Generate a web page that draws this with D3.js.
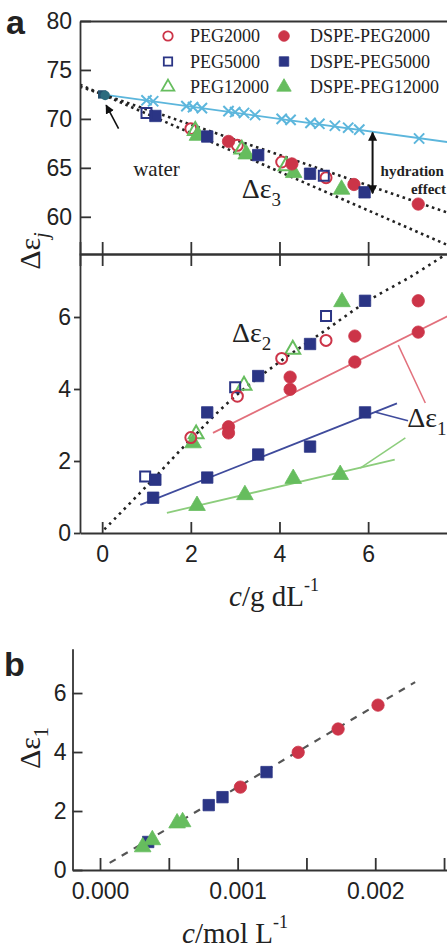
<!DOCTYPE html>
<html><head><meta charset="utf-8">
<script src="https://cdn.jsdelivr.net/npm/d3@7"></script>
<style>
body{margin:0;background:#fff}
svg{display:block}
.axis path,.axis line{stroke:#333;stroke-width:1.8}
.axis text{font-family:"Liberation Sans",Arial,sans-serif;font-size:23px;fill:#222}
.serif{font-family:"Liberation Serif","Times New Roman",serif;fill:#222}
</style>
</head><body>
<svg id="fig" width="447" height="948"></svg>
<script>
// ---- tick values ----
const xTicksA = [0, 2, 4, 6];
const yTicksTop = [60, 65, 70, 75, 80];
const yTicksBot = [0, 2, 4, 6];
const xTicksB = [0, 0.0005, 0.001, 0.0015, 0.002, 0.0025];
const xLabelsB = [0, 0.001, 0.002];
const yTicksB = [0, 2, 4, 6];

// ---- panel a, upper: Δε3 vs c (g/dL) ----
const waterPoint = [[0, 72.5]];
const e3_PEG2000 = [[2.0, 69.0], [3.05, 67.3], [4.05, 65.6], [5.05, 64.0]];
const e3_PEG5000 = [[1.0, 70.6], [5.0, 64.2]];
const e3_PEG12000 = [[2.1, 68.8], [3.15, 66.9], [4.15, 65.2]];
const e3_DSPE2000 = [[2.85, 67.7], [4.28, 65.4], [5.68, 63.3], [7.13, 61.3]];
const e3_DSPE5000 = [[1.2, 70.3], [2.37, 68.2], [3.52, 66.3], [4.69, 64.4], [5.92, 62.5]];
const e3_DSPE12000 = [[2.15, 68.3], [3.25, 66.4], [4.32, 64.5], [5.4, 62.8]];
// static permittivity of bulk-like water (crosses) and its line
const waterLineCross = [[1.0, 71.9], [1.15, 71.8], [1.9, 71.3], [2.05, 71.2], [2.25, 71.1],
  [2.85, 70.8], [3.0, 70.7], [3.2, 70.6], [3.45, 70.4], [4.05, 70.0], [4.25, 69.9],
  [4.7, 69.6], [4.9, 69.5], [5.25, 69.3], [5.55, 69.1], [5.8, 68.9], [7.15, 68.0]];
const crossFit = [[0, 72.5], [8, 67.5]];
const e3UpperFit = [[-0.5, 73.3], [8, 60.1]];
const e3LowerFit = [[-0.5, 73.5], [8, 56.7]];

// ---- panel a, lower: Δε2 and Δε1 vs c (g/dL) ----
const e2_PEG2000 = [[2.0, 2.65], [3.05, 3.8], [4.05, 4.85], [5.05, 5.35]];
const e2_PEG5000 = [[0.97, 1.57], [3.0, 4.05], [5.05, 6.03]];
const e2_PEG12000 = [[2.12, 2.75], [3.2, 4.1], [4.3, 5.1]];
const e2_DSPE2000 = [[2.85, 2.95], [4.24, 4.33], [5.7, 5.47], [7.13, 6.45]];
const e2_DSPE5000 = [[1.2, 1.48], [2.37, 3.35], [3.52, 4.36], [4.69, 5.25], [5.93, 6.45]];
const e2_DSPE12000 = [[2.05, 2.5], [5.41, 6.42]];
const e1_DSPE2000 = [[2.85, 2.78], [4.24, 3.99], [5.7, 4.75], [7.13, 5.58]];
const e1_DSPE5000 = [[1.15, 0.98], [2.37, 1.54], [3.52, 2.18], [4.69, 2.4], [5.93, 3.35]];
const e1_DSPE12000 = [[2.14, 0.76], [3.22, 1.06], [4.31, 1.51], [5.37, 1.62]];
const e2Curve = [[0.05, 0.1], [1, 1.3], [2, 2.6], [3, 3.8], [4, 4.75], [5, 5.6], [6, 6.45], [7, 7.15], [7.7, 7.7]];
const e1Fit_DSPE2000 = [[2.5, 2.78], [7.8, 6.03]];
const e1Fit_DSPE5000 = [[0.86, 0.78], [6.65, 3.6]];
const e1Fit_DSPE12000 = [[1.46, 0.56], [6.6, 2.04]];

// ---- panel b: Δε1 vs molar concentration ----
const b_DSPE12000 = [[0.00031, 0.78], [0.00038, 1.02], [0.00056, 1.59], [0.0006, 1.63]];
const b_DSPE5000 = [[0.00035, 0.95], [0.00079, 2.2], [0.00089, 2.47], [0.00121, 3.32]];
const b_DSPE2000 = [[0.00102, 2.81], [0.00144, 3.99], [0.00173, 4.78], [0.00202, 5.59]];
const bFit = [[0.00007, 0.24], [0.00229, 6.37]];

// ---- legend entries ----
const legendNames = ["PEG2000", "PEG5000", "PEG12000", "DSPE-PEG2000", "DSPE-PEG5000", "DSPE-PEG12000"];

// ---- styles ----
const RED = "#cc3448", BLUE = "#2b3585", GREEN = "#66bd5e", CYAN = "#5cb6dc";
const style = {
  PEG2000: {shape: d3.symbolCircle, size: 95, color: RED, filled: false},
  PEG5000: {shape: d3.symbolSquare, size: 100, color: BLUE, filled: false},
  PEG12000: {shape: d3.symbolTriangle, size: 95, color: GREEN, filled: false},
  "DSPE-PEG2000": {shape: d3.symbolCircle, size: 120, color: RED, filled: true},
  "DSPE-PEG5000": {shape: d3.symbolSquare, size: 130, color: BLUE, filled: true},
  "DSPE-PEG12000": {shape: d3.symbolTriangle, size: 120, color: GREEN, filled: true}
};

const svg = d3.select("#fig");
const defs = svg.append("defs");
defs.append("marker").attr("id", "ah").attr("viewBox", "0 0 10 10")
  .attr("refX", 9).attr("refY", 5).attr("markerWidth", 9).attr("markerHeight", 9)
  .attr("markerUnits", "userSpaceOnUse").attr("orient", "auto-start-reverse")
  .append("path").attr("d", "M0,0L10,5L0,10z").attr("fill", "#111");

// ---- scales ----
const xA = d3.scaleLinear().domain([-0.5, 8]).range([80, 456.8]);
const yT = d3.scaleLinear().domain([56.2, 80]).range([254, 21]);
const yL = d3.scaleLinear().domain([0, 7.75]).range([533, 254]);
const xB = d3.scaleLinear().domain([-0.0002, 0.00252]).range([72.5, 446.8]);
const yB = d3.scaleLinear().domain([0, 7.5]).range([870, 648.8]);

defs.append("clipPath").attr("id", "clipTop").append("rect").attr("x", 80).attr("y", 21).attr("width", 380).attr("height", 233);
defs.append("clipPath").attr("id", "clipBot").append("rect").attr("x", 80).attr("y", 254).attr("width", 380).attr("height", 279);

function markers(g, data, name, xs, ys) {
  const s = style[name];
  g.selectAll(null).data(data).enter().append("path")
    .attr("d", d3.symbol().type(s.shape).size(s.size))
    .attr("transform", d => `translate(${xs(d[0])},${ys(d[1])})`)
    .attr("fill", s.filled ? s.color : "none")
    .attr("stroke", s.color)
    .attr("stroke-width", s.filled ? 0.8 : 2);
}
function lineOf(g, data, xs, ys, color, width, dash, curve) {
  const gen = d3.line().x(d => xs(d[0])).y(d => ys(d[1]));
  if (curve) gen.curve(curve);
  const p = g.append("path").datum(data).attr("d", gen).attr("fill", "none")
    .attr("stroke", color).attr("stroke-width", width);
  if (dash) p.attr("stroke-dasharray", dash).attr("stroke-linecap", "butt");
  return p;
}
function eps(g, x, y, sub, size, anchor, rot) {
  const t = g.append("text").attr("class", "serif").attr("font-size", size)
    .attr("text-anchor", anchor || "start")
    .attr("transform", `translate(${x},${y})` + (rot ? ` rotate(${rot})` : ""));
  t.append("tspan").text("Δε");
  t.append("tspan").attr("font-size", size * 0.68).attr("dy", size * 0.28)
    .attr("font-style", sub === "j" ? "italic" : "normal").text(sub);
  return t;
}

// ================= panel a, upper =================
const gTop = svg.append("g").attr("clip-path", "url(#clipTop)");
lineOf(gTop, crossFit, xA, yT, CYAN, 1.8);
lineOf(gTop, e3UpperFit, xA, yT, "#222", 2.6, "2.6 3.6");
lineOf(gTop, e3LowerFit, xA, yT, "#222", 2.6, "2.6 3.6");
gTop.selectAll(null).data(waterLineCross).enter().append("path")
  .attr("d", d3.symbol().type(d3.symbolTimes).size(70))
  .attr("transform", d => `translate(${xA(d[0])},${yT(d[1])})`)
  .attr("fill", "none").attr("stroke", CYAN).attr("stroke-width", 2);
markers(gTop, e3_PEG2000, "PEG2000", xA, yT);
markers(gTop, e3_PEG12000, "PEG12000", xA, yT);
markers(gTop, e3_DSPE12000, "DSPE-PEG12000", xA, yT);
markers(gTop, e3_DSPE2000, "DSPE-PEG2000", xA, yT);
markers(gTop, e3_DSPE5000, "DSPE-PEG5000", xA, yT);
markers(gTop, e3_PEG5000, "PEG5000", xA, yT);
// water reference point
gTop.selectAll(null).data(waterPoint).enter().append("g")
  .attr("transform", d => `translate(${xA(d[0])},${yT(d[1])})`)
  .call(g => {
    g.append("path").attr("d", d3.symbol().type(d3.symbolSquare).size(70)).attr("fill", "#23506e");
    g.append("path").attr("transform", "translate(3,1)").attr("d", d3.symbol().type(d3.symbolCircle).size(70)).attr("fill", "#2c6b7e");
  });

// hydration-effect arrow
svg.append("line").attr("x1", xA(6.1)).attr("x2", xA(6.1)).attr("y1", yT(68.6)).attr("y2", yT(62.4))
  .attr("stroke", "#111").attr("stroke-width", 2)
  .attr("marker-start", "url(#ah)").attr("marker-end", "url(#ah)");
svg.append("text").attr("class", "serif").attr("font-size", 15).attr("font-weight", "bold")
  .attr("x", xA(6.28)).attr("y", yT(64.2)).text("hydration");
svg.append("text").attr("class", "serif").attr("font-size", 15).attr("font-weight", "bold")
  .attr("text-anchor", "end").attr("x", 446).attr("y", yT(62.3)).text("effect");
// water label and arrow
svg.append("text").attr("class", "serif").attr("font-size", 21)
  .attr("x", xA(0.7)).attr("y", yT(64.2)).text("water");
svg.append("line").attr("x1", xA(0.37)).attr("y1", yT(69.0)).attr("x2", xA(0.09)).attr("y2", yT(71.4))
  .attr("stroke", "#111").attr("stroke-width", 1.6).attr("marker-end", "url(#ah)");
eps(svg, xA(3.15), yT(61.9), "3", 28);

// legend
legendNames.forEach((n, i) => {
  const col = Math.floor(i / 3), row = i % 3;
  const lx = col ? 284 : 168, ly = 36 + row * 25.5;
  const s = style[n];
  svg.append("path").attr("d", d3.symbol().type(s.shape).size(s.filled ? 90 : 70))
    .attr("transform", `translate(${lx},${ly})`)
    .attr("fill", s.filled ? s.color : "none").attr("stroke", s.color).attr("stroke-width", s.filled ? 0.8 : 1.8);
  svg.append("text").attr("class", "serif").attr("font-size", 18)
    .attr("x", lx + (col ? 26 : 22)).attr("y", ly + 6).text(n);
});

// ================= panel a, lower =================
const gBot = svg.append("g").attr("clip-path", "url(#clipBot)");
lineOf(gBot, e2Curve, xA, yL, "#222", 2.6, "2.6 4.4", d3.curveCatmullRom);
lineOf(gBot, e1Fit_DSPE2000, xA, yL, "#e2707c", 1.8);
lineOf(gBot, e1Fit_DSPE5000, xA, yL, "#3f4b9c", 1.8);
lineOf(gBot, e1Fit_DSPE12000, xA, yL, "#8ccd7c", 1.8);
markers(gBot, e2_PEG12000, "PEG12000", xA, yL);
markers(gBot, e2_DSPE12000, "DSPE-PEG12000", xA, yL);
markers(gBot, e1_DSPE12000, "DSPE-PEG12000", xA, yL);
markers(gBot, e2_DSPE2000, "DSPE-PEG2000", xA, yL);
markers(gBot, e1_DSPE2000, "DSPE-PEG2000", xA, yL);
markers(gBot, e2_DSPE5000, "DSPE-PEG5000", xA, yL);
markers(gBot, e1_DSPE5000, "DSPE-PEG5000", xA, yL);
markers(gBot, e2_PEG5000, "PEG5000", xA, yL);
markers(gBot, e2_PEG2000, "PEG2000", xA, yL);
// pointers to the Δε1 label
lineOf(gBot, [[6.68, 5.22], [7.29, 3.61]], xA, yL, "#e2707c", 1.5);
lineOf(gBot, [[6.15, 3.36], [6.9, 3.12]], xA, yL, "#3f4b9c", 1.5);
lineOf(gBot, [[5.82, 1.8], [6.84, 2.64]], xA, yL, "#8ccd7c", 1.5);
eps(svg, xA(2.93), yL(5.3), "2", 28);
eps(svg, xA(6.88), yL(2.95), "1", 28);

// axes of panel a
svg.append("g").attr("class", "axis").attr("transform", "translate(80,0)")
  .call(d3.axisLeft(yT).tickValues(yTicksTop).tickSizeInner(-11).tickSizeOuter(0).tickPadding(8));
svg.append("g").attr("class", "axis").attr("transform", "translate(80,0)")
  .call(d3.axisLeft(yL).tickValues(yTicksBot).tickSizeInner(6).tickSizeOuter(0).tickPadding(3));
svg.append("g").attr("class", "axis").attr("transform", "translate(0,254)")
  .call(d3.axisBottom(xA).tickValues(xTicksA).tickSize(12).tickFormat(""));
svg.append("g").attr("class", "axis").attr("transform", "translate(0,254)")
  .call(d3.axisTop(xA).tickValues(xTicksA).tickSize(12).tickFormat(""));
svg.append("g").attr("class", "axis").attr("transform", "translate(0,533)")
  .call(d3.axisBottom(xA).tickValues(xTicksA).tickSizeInner(-11).tickSizeOuter(0).tickPadding(13));
svg.append("g").attr("class", "axis").attr("transform", "translate(0,21)")
  .call(d3.axisTop(xA).tickValues([]).tickSizeOuter(0));

// panel a titles
svg.append("text").attr("x", 6).attr("y", 34).attr("font-family", "Liberation Sans,Arial,sans-serif")
  .attr("font-weight", "bold").attr("font-size", 34).attr("fill", "#222").text("a");
eps(svg, 40, 251, "j", 30, "middle", -90);
const xlabA = svg.append("text").attr("class", "serif").attr("font-size", 29).attr("x", 229).attr("y", 606);
xlabA.append("tspan").attr("font-style", "italic").text("c");
xlabA.append("tspan").text("/g dL");
xlabA.append("tspan").attr("font-size", 18).attr("dy", -15).text("-1");

// ================= panel b =================
lineOf(svg, bFit, xB, yB, "#555", 2.2, "7 7");
markers(svg, b_DSPE2000, "DSPE-PEG2000", xB, yB);
markers(svg, b_DSPE5000, "DSPE-PEG5000", xB, yB);
markers(svg, b_DSPE12000, "DSPE-PEG12000", xB, yB);
svg.append("g").attr("class", "axis").attr("transform", "translate(72.5,0)")
  .call(d3.axisLeft(yB).tickValues(yTicksB).tickSizeInner(-10).tickSizeOuter(0).tickPadding(6));
svg.append("g").attr("class", "axis").attr("transform", "translate(0,870)")
  .call(d3.axisBottom(xB).tickValues(xTicksB).tickSizeInner(-12).tickSizeOuter(0).tickPadding(13)
    .tickFormat(d => xLabelsB.some(v => Math.abs(v - d) < 1e-9) ? d3.format(".3f")(d) : ""));
svg.append("text").attr("x", 4).attr("y", 676).attr("font-family", "Liberation Sans,Arial,sans-serif")
  .attr("font-weight", "bold").attr("font-size", 34).attr("fill", "#222").text("b");
eps(svg, 40, 748, "1", 30, "middle", -90);
const xlabB = svg.append("text").attr("class", "serif").attr("font-size", 29).attr("x", 182).attr("y", 943);
xlabB.append("tspan").attr("font-style", "italic").text("c");
xlabB.append("tspan").text("/mol L");
xlabB.append("tspan").attr("font-size", 18).attr("dy", -15).text("-1");
</script>
</body></html>
